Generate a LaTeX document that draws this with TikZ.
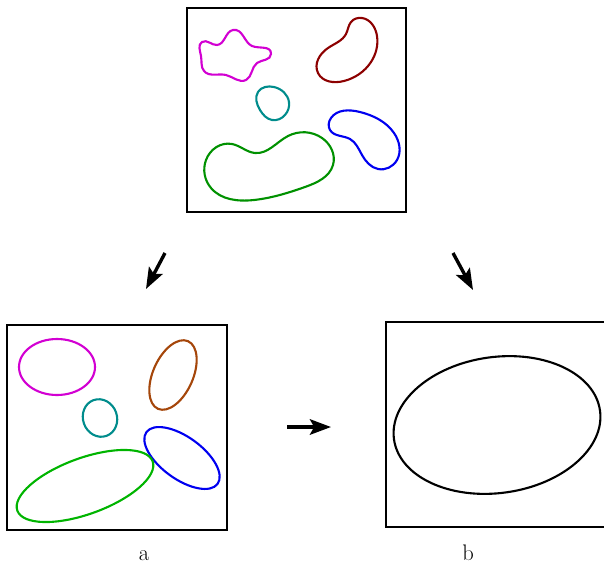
\documentclass[tikz,border=0pt]{standalone}
\usepackage{tikz}
\usetikzlibrary{arrows.meta,hobby}
\definecolor{BlobMagenta}{RGB}{210,0,210}
\definecolor{BlobRed}{RGB}{140,0,0}
\definecolor{BlobTeal}{RGB}{0,140,140}
\definecolor{BlobBlue}{RGB}{0,0,240}
\definecolor{BlobGreen}{RGB}{0,145,0}
\definecolor{FitGreen}{RGB}{0,180,0}
\definecolor{FitBrown}{RGB}{165,70,10}

\begin{document}
\begin{tikzpicture}[x=0.025cm,y=-0.025cm,
        frame/.style={draw,line width=1.5pt},
        blob/.style={line width=1.5pt,use Hobby shortcut,closed=true},
        fit/.style={line width=1.5pt},
        map/.style={-{Stealth[length=15pt,width=11pt,inset=3pt]},line width=2.4pt},
        tag/.style={anchor=base,font=\fontsize{16}{19}\selectfont}
      ]
        \useasboundingbox (0,0) rectangle (604,565);
        % top: original regions
        \draw[frame] (187,8) rectangle (406,212);
        \draw[blob,BlobMagenta] (202,42) .. (217,45) .. (233,30) .. (252,46)
          .. (271,54) .. (257,63) .. (246,80) .. (226,75) .. (204,71) .. (201,56);
        \draw[blob,BlobRed] (346,34) .. (351,22) .. (362,18) .. (377,36) .. (371,62)
          .. (344,81) .. (318,73) .. (328,48);
        \draw[blob,BlobTeal] (258,92) .. (274,87) .. (289,102) .. (285,115)
          .. (272,120) .. (260,110);
        \draw[blob,BlobBlue] (331,118) .. (360,112) .. (394,133) .. (397,160)
          .. (378,169) .. (362,155) .. (350,139) .. (330,130);
        \draw[blob,BlobGreen] (255,153) .. (288,136) .. (322,138) .. (333,165)
          .. (305,187) .. (254,200) .. (211,188) .. (206,160) .. (232,144);
        % bottom left: fitted ellipses
        \draw[frame] (7,325) rectangle (227,530);
        \draw[fit,BlobMagenta] (57,367) ellipse [x radius=38, y radius=28];
        \draw[fit,FitBrown] (173,375) ellipse [x radius=37, y radius=20, rotate=66];
        \draw[fit,BlobTeal] (100,418) ellipse [x radius=17, y radius=19, rotate=20];
        \draw[fit,BlobBlue] (182,458) ellipse [x radius=44, y radius=21, rotate=-36];
        \draw[fit,FitGreen] (85,486) ellipse [x radius=72, y radius=28, rotate=20];
        % bottom right: merged ellipse
        \draw[frame] (386,322) rectangle (625,527);
        \draw[fit] (497,425) ellipse [x radius=104, y radius=68, rotate=8];
        % arrows
        \coordinate (topL) at (165,253);
        \coordinate (endL) at (146,289);
        \coordinate (topR) at (453,253);
        \coordinate (endR) at (473,290);
        \coordinate (hA) at (287,427);
        \coordinate (hB) at (331,427);
        \draw[map] (topL)--(endL);
        \draw[map] (topR)--(endR);
        \draw[map] (hA)--(hB);
        \node[tag] (la) at (144,560) {a};
        \node[tag] (lb) at (468,560) {b};
      \end{tikzpicture}
\end{document}
